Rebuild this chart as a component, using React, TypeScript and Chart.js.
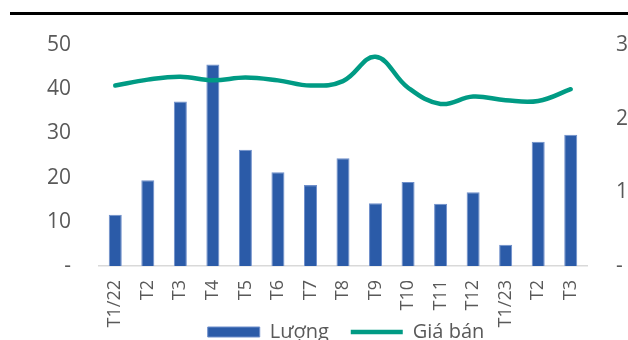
import React, { useEffect, useRef } from "react";
import { Chart, registerables } from "chart.js";

Chart.register(...registerables);

const categories = ["T1/22", "T2", "T3", "T4", "T5", "T6", "T7", "T8", "T9", "T10", "T11", "T12", "T1/23", "T2", "T3"];
const volume = [11.6, 19.4, 37.2, 45.6, 26.3, 21.2, 18.3, 24.4, 14.2, 19.0, 14.1, 16.7, 4.8, 28.1, 29.7];
const price = [2.45, 2.53, 2.57, 2.52, 2.56, 2.52, 2.45, 2.51, 2.84, 2.42, 2.2, 2.3, 2.25, 2.24, 2.4];
const seriesNames = ["Lượng", "Giá bán"];
const leftAxis = { min: 0, max: 50, step: 10 };
const rightAxis = { min: 0, max: 3, step: 1 };

const FONT = "'Open Sans', 'Noto Sans', sans-serif";
const TEXT = "#595959";

// let tick labels extend outside their scale box (Chart.js clips them otherwise)
const noLabelClip = (s: any) => {
  s._computeLabelArea = () => undefined;
};

export default function App() {
  const ref = useRef<HTMLCanvasElement | null>(null);

  useEffect(() => {
    if (!ref.current) return;
    const chart = new Chart(ref.current, {
      type: "bar",
      data: {
        labels: categories,
        datasets: [
          {
            type: "bar",
            label: seriesNames[0],
            data: volume,
            yAxisID: "y",
            backgroundColor: "#2B5BA8",
            borderColor: "#6F8FCB",
            borderWidth: 1,
            barPercentage: 0.4,
            categoryPercentage: 1,
            order: 1,
            pointStyle: "rect",
          } as any,
          {
            type: "line",
            label: seriesNames[1],
            data: price,
            yAxisID: "y1",
            borderColor: "#009B84",
            backgroundColor: "#009B84",
            borderWidth: 4.5,
            borderCapStyle: "round",
            pointRadius: 0,
            tension: 0.4,
            order: 0,
            pointStyle: "line",
          } as any,
        ],
      },
      options: {
        responsive: false,
        animation: false,
        layout: { padding: { top: 45, left: 64, right: 0, bottom: 0 } },
        plugins: {
          tooltip: { enabled: false },
          legend: {
            position: "bottom",
            align: "center",
            labels: {
              usePointStyle: true,
              pointStyleWidth: 52,
              boxHeight: 10,
              padding: 22,
              color: TEXT,
              font: { family: FONT, size: 20 },
              sort: (a: any, b: any) => a.datasetIndex - b.datasetIndex,
            },
          },
        },
        scales: {
          x: {
            grid: { display: false, drawTicks: false },
            border: { display: true, color: "#D9D9D9", width: 1.5 },
            ticks: {
              minRotation: 90,
              maxRotation: 90,
              autoSkip: false,
              padding: 14,
              color: TEXT,
              font: { family: FONT, size: 18 },
            },
            afterFit: (s: any) => {
              s.height = 34;
              noLabelClip(s);
            },
          },
          y: {
            position: "left",
            min: leftAxis.min,
            max: leftAxis.max,
            grid: { display: false, drawTicks: false },
            border: { display: false },
            ticks: {
              stepSize: leftAxis.step,
              padding: 28,
              color: TEXT,
              font: { family: FONT, size: 21 },
              callback: (v: any) => (Number(v) === 0 ? "-" : String(v)),
            },
            afterFit: (s: any) => {
              s.width = 35;
              noLabelClip(s);
            },
          },
          y1: {
            position: "right",
            min: rightAxis.min,
            max: rightAxis.max,
            grid: { display: false, drawTicks: false },
            border: { display: false },
            ticks: {
              stepSize: rightAxis.step,
              padding: 29,
              color: TEXT,
              font: { family: FONT, size: 21 },
              callback: (v: any) => (Number(v) === 0 ? "-" : String(v)),
            },
            afterFit: (s: any) => {
              s.width = 41;
              noLabelClip(s);
            },
          },
        },
      } as any,
    });
    return () => chart.destroy();
  }, []);

  return (
    <div style={{ position: "fixed", left: 0, top: 0, width: 628, height: 340, overflow: "hidden", background: "#fff" }}>
      <div style={{ position: "absolute", left: 10, right: 0, top: 12, height: 3, background: "#000" }} />
      <canvas ref={ref} width={628} height={352} style={{ position: "absolute", left: 0, top: 0, width: 628, height: 352 }} />
    </div>
  );
}
